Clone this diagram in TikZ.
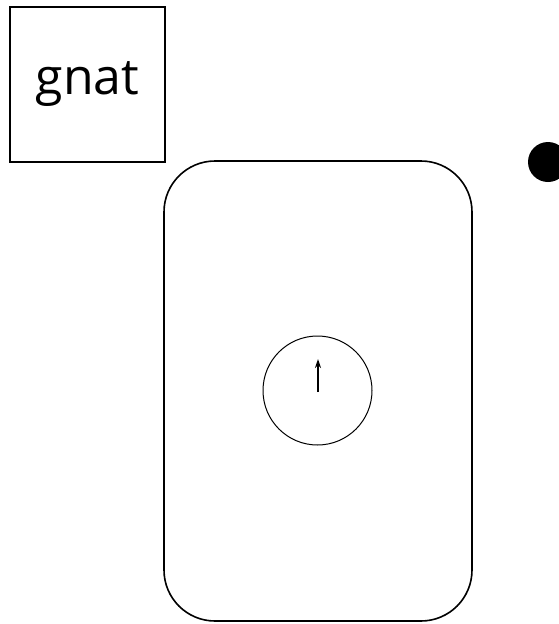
\documentclass[tikz,border=0pt]{standalone}
\usepackage{fontspec}
\setmainfont{Open Sans}
\usetikzlibrary{arrows.meta}
\tikzset{
  labelbox/.style={draw, line width=2pt, minimum width=155pt, minimum height=155pt, inner sep=0pt, font=\fontsize{50}{50}\selectfont},
  frame/.style={draw, line width=1.6pt, rounded corners=51pt},
  dial/.style={draw, circle, line width=1pt, minimum size=109pt, inner sep=0pt},
  pointer/.style={line width=1.8pt, -{Stealth[length=9pt,width=6pt]}}
}
\begin{document}
\begin{tikzpicture}[x=1pt,y=-1pt]
\useasboundingbox (0,0) rectangle (559,624);
\clip (0,0) rectangle (559,624);
\node[labelbox] (lbl) at (87.5,84.5) {gnat};
\draw[frame] (164,161) rectangle (472,621);
\node[dial] (dial) at (317.5,390.5) {};
\coordinate (ptail) at (318,392);
\coordinate (phead) at (318,359);
\draw[pointer] (ptail) -- (phead);
\fill (548,162) circle (20);
\end{tikzpicture}
\end{document}
